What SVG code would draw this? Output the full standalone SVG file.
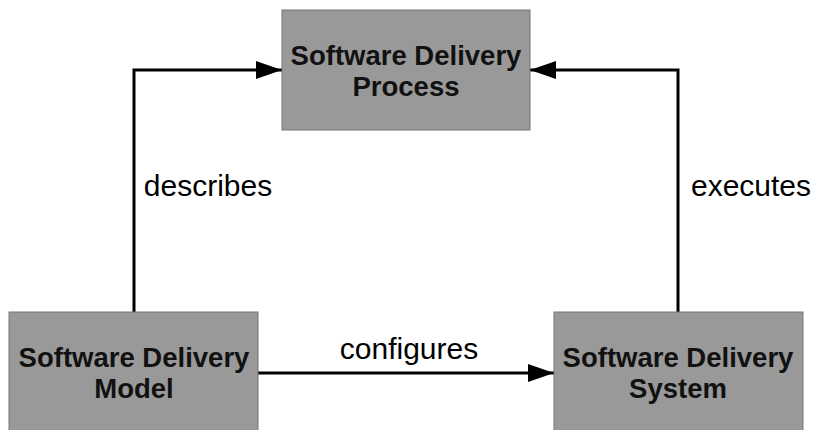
<svg xmlns="http://www.w3.org/2000/svg" width="814" height="430" viewBox="0 0 814 430">
<style>
.box{fill:#999999;stroke:#777777;stroke-width:1}
.t{font-family:"Liberation Sans",Arial,sans-serif;font-weight:bold;font-size:27.5px;fill:#111;text-anchor:middle}
.l{font-family:"Liberation Sans",Arial,sans-serif;font-size:30px;fill:#000;text-anchor:middle}
.c{fill:none;stroke:#000;stroke-width:3}
</style>
<defs>
<marker id="a" viewBox="0 0 26 18" refX="26" refY="9" markerWidth="26" markerHeight="18" orient="auto" markerUnits="userSpaceOnUse">
<path d="M0,0 L26,9 L0,18 z" fill="#000"/>
</marker>
</defs>
<g id="connectors">
<path class="c" d="M134,312 V70 H282" marker-end="url(#a)"/>
<path class="c" d="M678,312 V70 H530" marker-end="url(#a)"/>
<path class="c" d="M258,373 H554" marker-end="url(#a)"/>
<text class="l" x="208" y="196">describes</text>
<text class="l" x="751" y="196">executes</text>
<text class="l" x="409" y="359">configures</text>
</g>
<g id="process">
<rect class="box" x="282" y="10" width="248" height="120"/>
<text class="t" x="406" y="65">Software Delivery</text>
<text class="t" x="406" y="96">Process</text>
</g>
<g id="model">
<rect class="box" x="9" y="312" width="249" height="122"/>
<text class="t" x="134" y="367">Software Delivery</text>
<text class="t" x="134" y="398">Model</text>
</g>
<g id="system">
<rect class="box" x="554" y="312" width="249" height="122"/>
<text class="t" x="678" y="367">Software Delivery</text>
<text class="t" x="678" y="398">System</text>
</g>
</svg>
